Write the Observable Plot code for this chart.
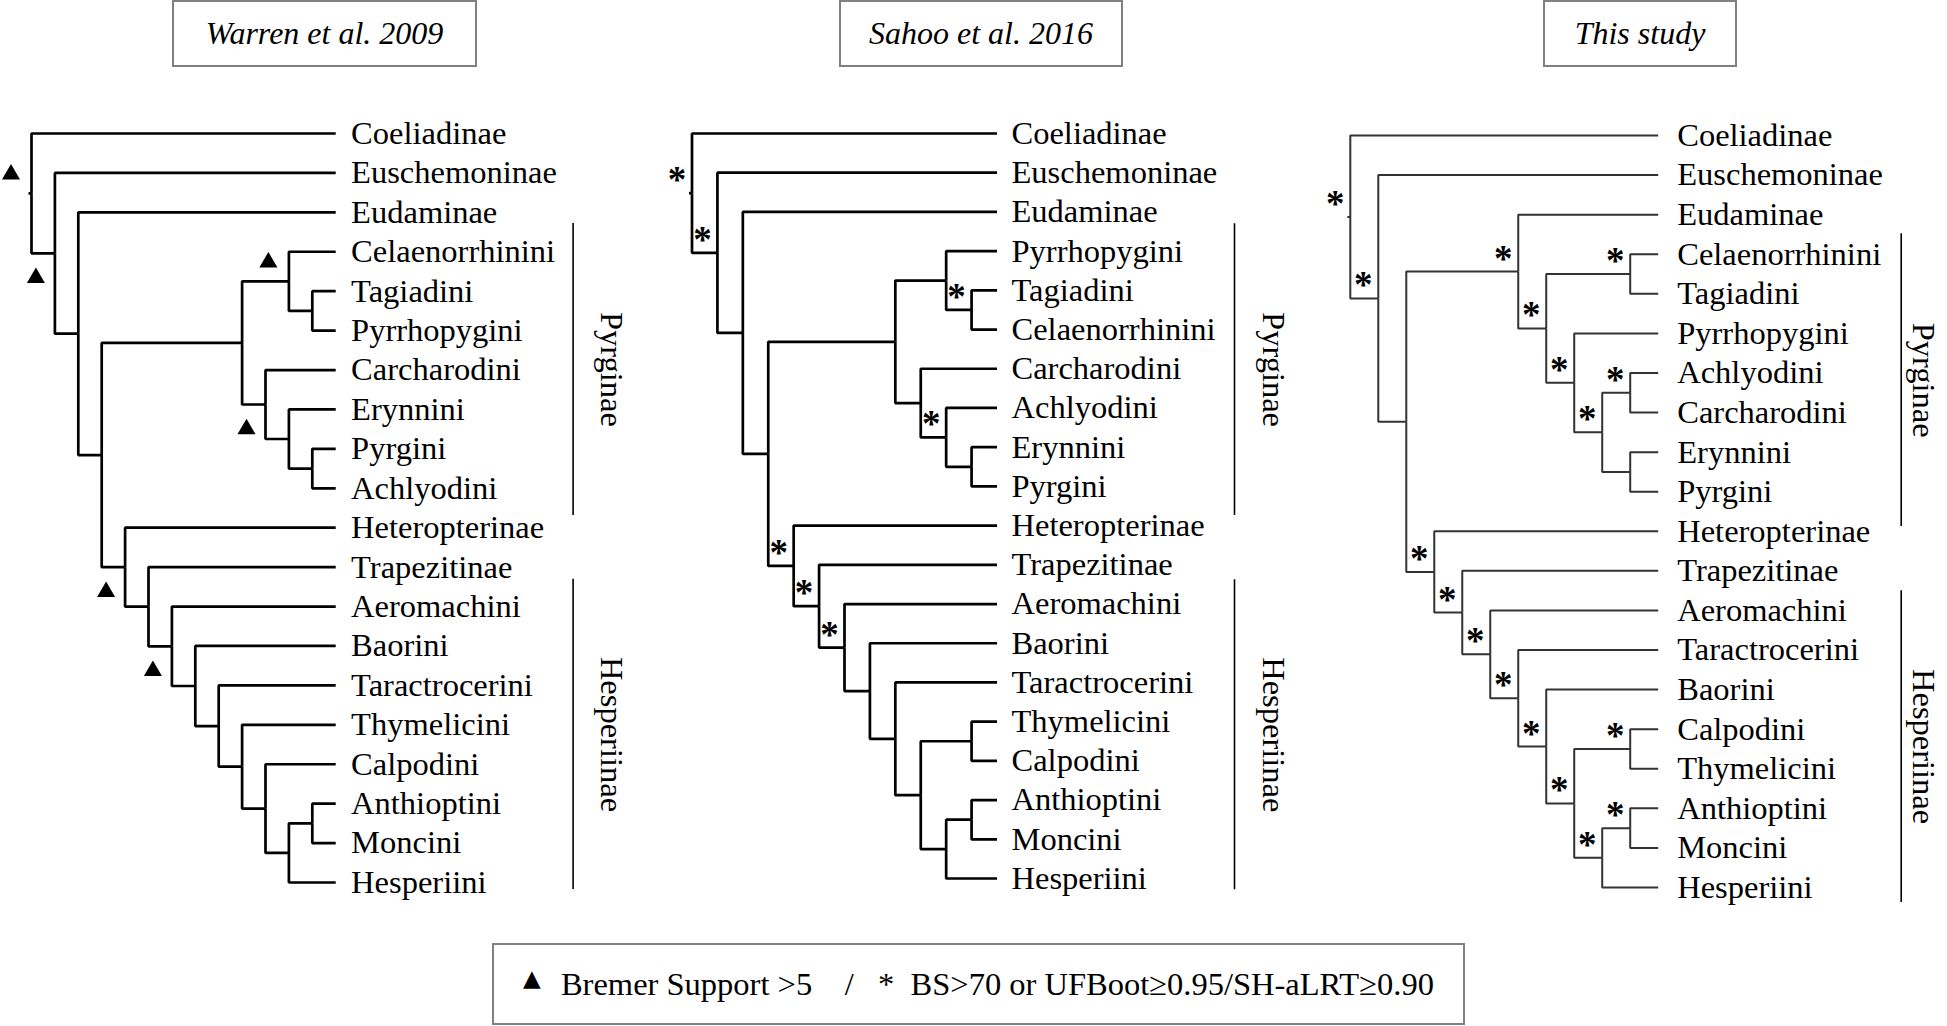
<!DOCTYPE html>
<html>
<head>
<meta charset="utf-8">
<script src="https://cdn.jsdelivr.net/npm/d3@7"></script>
<script src="https://cdn.jsdelivr.net/npm/@observablehq/plot@0.6"></script>
<style>
  html, body { margin: 0; padding: 0; background: #fff; }
  body { width: 1947px; height: 1026px; overflow: hidden; position: relative;
         font-family: "Liberation Serif", "Times New Roman", Times, serif; color: #000; }
  .panel { position: absolute; top: 0; height: 940px; }
  .title { position: absolute; top: 0; height: 67px; box-sizing: border-box;
           border: 2px solid #808080; display: flex; align-items: center; justify-content: center;
           font-style: italic; font-size: 32px; background: #fff; }
  .legend { position: absolute; left: 492px; top: 943px; width: 973px; height: 82px; box-sizing: border-box;
            border: 2px solid #808080; display: flex; align-items: center; justify-content: center;
            font-size: 32.5px; white-space: pre; }
  .legend .tri { font-family: "DejaVu Sans", sans-serif; font-size: 23px; position: relative; top: -6px; margin-right: 12px; }
</style>
</head>
<body>
<div id="chart"></div>
<script>
// ---------------- data ----------------
const treeTitles = ["Warren et al. 2009", "Sahoo et al. 2016", "This study"];

// topologies (nested pairs, leaves listed top to bottom)
const warrenTree = ["Coeliadinae", ["Euschemoninae", ["Eudaminae", [
  [["Celaenorrhinini", ["Tagiadini", "Pyrrhopygini"]], ["Carcharodini", ["Erynnini", ["Pyrgini", "Achlyodini"]]]],
  ["Heteropterinae", ["Trapezitinae", ["Aeromachini", ["Baorini", ["Taractrocerini", ["Thymelicini",
    ["Calpodini", [["Anthioptini", "Moncini"], "Hesperiini"]]]]]]]]
]]]];

const sahooTree = ["Coeliadinae", ["Euschemoninae", ["Eudaminae", [
  [["Pyrrhopygini", ["Tagiadini", "Celaenorrhinini"]], ["Carcharodini", ["Achlyodini", ["Erynnini", "Pyrgini"]]]],
  ["Heteropterinae", ["Trapezitinae", ["Aeromachini", ["Baorini", ["Taractrocerini",
    [["Thymelicini", "Calpodini"], [["Anthioptini", "Moncini"], "Hesperiini"]]]]]]]
]]]];

const thisStudyTree = ["Coeliadinae", ["Euschemoninae", [
  ["Eudaminae", [["Celaenorrhinini", "Tagiadini"], ["Pyrrhopygini", [["Achlyodini", "Carcharodini"], ["Erynnini", "Pyrgini"]]]]],
  ["Heteropterinae", ["Trapezitinae", ["Aeromachini", ["Taractrocerini", ["Baorini",
    [["Calpodini", "Thymelicini"], [["Anthioptini", "Moncini"], "Hesperiini"]]]]]]]
]]];

// supported nodes, given as the most recent common ancestor of two tips
const warrenSupport = [ // Bremer support > 5 (triangles), side of the branch
  ["Coeliadinae", "Hesperiini", "above"],
  ["Euschemoninae", "Hesperiini", "below"],
  ["Celaenorrhinini", "Pyrrhopygini", "above"],
  ["Carcharodini", "Achlyodini", "below"],
  ["Heteropterinae", "Hesperiini", "below"],
  ["Aeromachini", "Hesperiini", "below"]
];
const sahooSupport = [ // asterisks
  ["Coeliadinae", "Hesperiini"],
  ["Euschemoninae", "Hesperiini"],
  ["Tagiadini", "Celaenorrhinini"],
  ["Achlyodini", "Pyrgini"],
  ["Heteropterinae", "Hesperiini"],
  ["Trapezitinae", "Hesperiini"],
  ["Aeromachini", "Hesperiini"]
];
const thisStudySupport = [ // asterisks
  ["Coeliadinae", "Hesperiini"],
  ["Euschemoninae", "Hesperiini"],
  ["Eudaminae", "Pyrgini"],
  ["Celaenorrhinini", "Pyrgini"],
  ["Celaenorrhinini", "Tagiadini"],
  ["Pyrrhopygini", "Pyrgini"],
  ["Achlyodini", "Carcharodini"],
  ["Achlyodini", "Pyrgini"],
  ["Heteropterinae", "Hesperiini"],
  ["Trapezitinae", "Hesperiini"],
  ["Aeromachini", "Hesperiini"],
  ["Taractrocerini", "Hesperiini"],
  ["Baorini", "Hesperiini"],
  ["Calpodini", "Thymelicini"],
  ["Calpodini", "Hesperiini"],
  ["Anthioptini", "Moncini"],
  ["Anthioptini", "Hesperiini"]
];

const subfamilyNames = ["Pyrginae", "Hesperiinae"];
const pyrginaeTribes = ["Celaenorrhinini", "Tagiadini", "Pyrrhopygini", "Carcharodini", "Erynnini", "Pyrgini", "Achlyodini"];
const hesperiinaeTribes = ["Aeromachini", "Baorini", "Taractrocerini", "Thymelicini", "Calpodini", "Anthioptini", "Moncini", "Hesperiini"];

const legendText = "Bremer Support >5    /   *  BS>70 or UFBoot\u22650.95/SH-aLRT\u22650.90";

// ---------------- layout / style ----------------
const panels = [
  {title: treeTitles[0], tree: warrenTree, support: warrenSupport, marker: "triangle",
   left: 0, width: 650, xRange: [31, 335.2], yRange: [133, 882], stroke: "#000", strokeWidth: 2.7,
   labelDx: 15.4, bracketDx: 237.4, groupDx: 276, pads: [[0.72, 0.69], [0.69, 0.18]], titleBox: [172, 305]},
  {title: treeTitles[1], tree: sahooTree, support: sahooSupport, marker: "asterisk",
   left: 660, width: 650, xRange: [31.5, 336.5], yRange: [133, 878], stroke: "#000", strokeWidth: 2.7,
   labelDx: 14.5, bracketDx: 237.5, groupDx: 276.5, pads: [[0.70, 0.74], [0.62, 0.29]], titleBox: [179, 284]},
  {title: treeTitles[2], tree: thisStudyTree, support: thisStudySupport, marker: "asterisk",
   left: 1318, width: 629, xRange: [31.8, 339.7], yRange: [135, 887], stroke: "#333", strokeWidth: 2,
   labelDx: 19, bracketDx: 243, groupDx: 265, pads: [[0.52, 0.88], [0.50, 0.38]], titleBox: [225, 194]}
];

const chart = document.getElementById("chart");
const FONT = "'Liberation Serif', 'Times New Roman', Times, serif";

panels.forEach(p => {
  const root = d3.hierarchy(p.tree, d => Array.isArray(d) ? d : null);
  d3.cluster().nodeSize([1, 1]).separation(() => 1)(root);
  const leaves = root.leaves();
  const base = leaves[0].x;
  const row = n => n.x - base;
  const level = n => n.y;
  const H = root.height;
  const byName = new Map(leaves.map(l => [l.data, l]));
  const mrca = (a, b) => {
    const s = new Set(byName.get(a).ancestors());
    return byName.get(b).ancestors().find(n => s.has(n));
  };
  const links = root.links();
  const pxPerLevel = (p.xRange[1] - p.xRange[0]) / H;
  const stub = [{x1: -3 / pxPerLevel, x2: 0, y: row(root)}];
  const support = p.support.map(([a, b, side]) => {
    const n = mrca(a, b);
    return {x: level(n), y: row(n), side};
  });
  const groups = [pyrginaeTribes, hesperiinaeTribes].map((members, gi) => {
    const rows = members.filter(m => byName.has(m)).map(m => row(byName.get(m)));
    const lo = d3.min(rows) - p.pads[gi][0], hi = d3.max(rows) + p.pads[gi][1];
    return {name: subfamilyNames[gi], y1: lo, y2: hi, ym: (lo + hi) / 2, x: H};
  });

  const marks = [
    Plot.link(links, {
      x1: d => level(d.source), y1: d => row(d.source),
      x2: d => level(d.target), y2: d => row(d.target),
      curve: "step-before", stroke: p.stroke, strokeWidth: p.strokeWidth
    }),
    Plot.link(stub, {x1: "x1", x2: "x2", y1: "y", y2: "y", stroke: p.stroke, strokeWidth: p.strokeWidth}),
    Plot.text(leaves, {x: level, y: row, text: d => d.data, textAnchor: "start", dx: p.labelDx,
                       fontSize: 32.5, fill: "#000"}),
    Plot.ruleX(groups, {x: "x", y1: "y1", y2: "y2", dx: p.bracketDx, stroke: "#000", strokeWidth: 1.6}),
    Plot.text(groups, {x: "x", y: "ym", text: "name", rotate: 90, dx: p.groupDx, fontSize: 32.5, fill: "#000"})
  ];
  if (p.marker === "triangle") {
    marks.push(
      Plot.dot(support.filter(d => d.side === "above"), {x: "x", y: "y", symbol: "triangle", r: 6.7,
        fill: "#000", stroke: null, dx: -20.5, dy: -19}),
      Plot.dot(support.filter(d => d.side === "below"), {x: "x", y: "y", symbol: "triangle", r: 6.7,
        fill: "#000", stroke: null, dx: -19, dy: 24.6})
    );
  } else {
    marks.push(
      Plot.text(support, {x: "x", y: "y", text: () => "*", textAnchor: "middle", lineAnchor: "bottom",
        dx: -15, dy: -1, fontSize: 37, fontWeight: "bold", fill: "#000"})
    );
  }

  const svg = Plot.plot({
    width: p.width, height: 940, margin: 0,
    x: {domain: [0, H], range: p.xRange, axis: null},
    y: {domain: [0, leaves.length - 1], range: p.yRange, axis: null},
    style: {fontFamily: FONT, fontSize: "32.5px", background: "transparent", color: "#000"},
    marks
  });
  const panel = document.createElement("div");
  panel.className = "panel";
  panel.style.left = p.left + "px";
  panel.style.width = p.width + "px";
  panel.appendChild(svg);
  chart.appendChild(panel);

  const title = document.createElement("div");
  title.className = "title";
  title.style.left = (p.left + p.titleBox[0]) + "px";
  title.style.width = p.titleBox[1] + "px";
  title.textContent = p.title;
  chart.appendChild(title);
});

const legend = document.createElement("div");
legend.className = "legend";
const tri = document.createElement("span");
tri.className = "tri";
tri.textContent = "\u25B2";
legend.appendChild(tri);
legend.appendChild(document.createTextNode(" " + legendText));
chart.appendChild(legend);
</script>
</body>
</html>
